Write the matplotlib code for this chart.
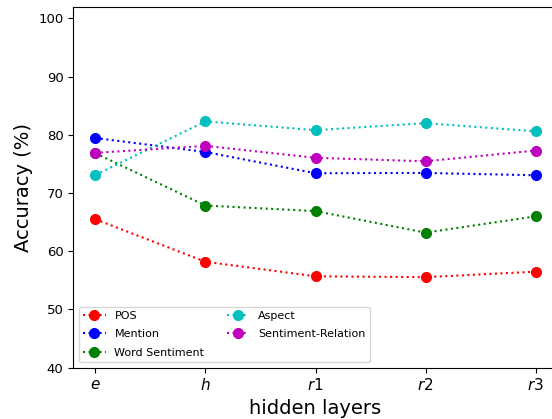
import matplotlib
matplotlib.use("Agg")
import matplotlib.pyplot as plt

# accuracy of probing tasks per hidden layer
layers = ['$e$', '$h$', '$r1$', '$r2$', '$r3$']
pos = [65.5, 58.2, 55.7, 55.55, 56.5]
mention = [79.45, 77.05, 73.4, 73.45, 73.05]
word_sentiment = [76.85, 67.85, 66.9, 63.2, 66.0]
aspect = [73.1, 82.3, 80.8, 82.0, 80.6]
sentiment_relation = [76.9, 78.1, 76.05, 75.45, 77.3]

fig = plt.figure(figsize=(5.52, 4.19), dpi=100)
# the original figure was cropped on the right, so the axes run past the edge
ax = fig.add_axes([0.1328, 0.1224, 0.8776, 0.8616])

x = range(len(layers))
ax.plot(x, pos, 'r:o', label='POS', markersize=7)
ax.plot(x, mention, 'b:o', label='Mention', markersize=7)
ax.plot(x, word_sentiment, 'g:o', label='Word Sentiment', markersize=7)
ax.plot(x, aspect, 'c:o', label='Aspect', markersize=7)
ax.plot(x, sentiment_relation, 'm:o', label='Sentiment-Relation', markersize=7)

ax.set_xticks(list(x))
ax.set_xticklabels(layers, fontsize=11)
ax.set_xlim(-0.2, 4.2)
ax.set_ylim(40, 102)
ax.spines['right'].set_visible(False)
ax.tick_params(axis='y', labelsize=9.5)
ax.set_xlabel('hidden layers', fontsize=14)
ax.set_ylabel('Accuracy (%)', fontsize=14)
ax.legend(loc='lower left', ncol=2, fontsize=8, labelspacing=0.75)

fig.savefig('out.png', dpi=100)
